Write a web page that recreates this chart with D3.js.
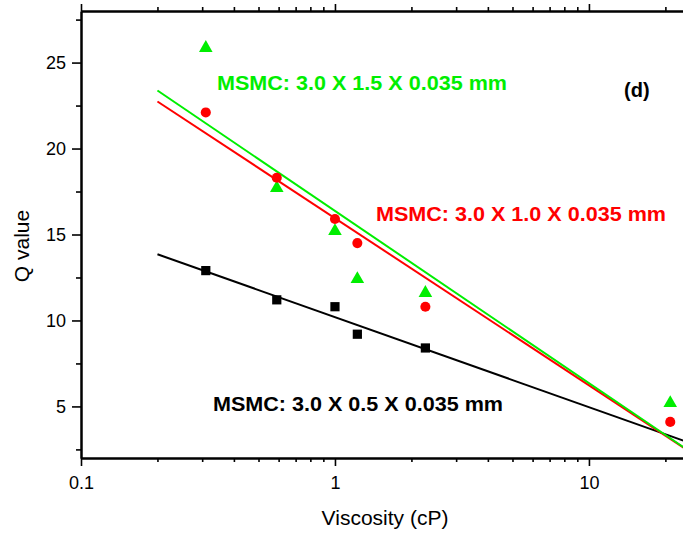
<!DOCTYPE html>
<html>
<head>
<meta charset="utf-8">
<script src="https://cdn.jsdelivr.net/npm/d3@7"></script>
<style>
  html, body { margin: 0; padding: 0; background: #fff; }
  svg { display: block; font-family: "Liberation Sans", Arial, sans-serif; }
</style>
</head>
<body>
<svg id="chart" width="683" height="534"></svg>
<script>
// Viscosity values (cP) for each measurement
const viscosity = [0.31, 0.59, 1.0, 1.225, 2.27, 20.9];

// Q values for the three channel geometries
const qWide   = [25.85, 17.7, 15.2, 12.4, 11.6, 5.2];   // 3.0 x 1.5 x 0.035 mm
const qMedium = [22.1, 18.3, 15.9, 14.5, 10.8, 4.1];    // 3.0 x 1.0 x 0.035 mm
const qNarrow = [12.9, 11.2, 10.8, 9.2, 8.4];           // 3.0 x 0.5 x 0.035 mm

const seriesLabels = [
  "MSMC: 3.0 X 1.5 X 0.035 mm",
  "MSMC: 3.0 X 1.0 X 0.035 mm",
  "MSMC: 3.0 X 0.5 X 0.035 mm"
];

const yTicks = [5, 10, 15, 20, 25];
const xTicks = [0.1, 1, 10];
const fitRange = [0.2, 25];

const svg = d3.select("#chart");
const mLeft = 81, mTop = 11, mRight = 690, mBottom = 458;

const x = d3.scaleLog().domain([0.1, 25]).range([mLeft, mRight]);
const y = d3.scaleLinear().domain([2, 28]).range([mBottom, mTop]);

// Least-squares fit of Q against log10(viscosity)
function fit(xs, ys) {
  const lx = xs.slice(0, ys.length).map(Math.log10);
  const mx = d3.mean(lx), my = d3.mean(ys);
  const sxy = d3.sum(lx, (v, i) => (v - mx) * (ys[i] - my));
  const sxx = d3.sum(lx, v => (v - mx) * (v - mx));
  const b = sxy / sxx, a = my - b * mx;
  return v => a + b * Math.log10(v);
}

const series = [
  { q: qWide,   color: "#00ee00", shape: d3.symbolTriangle, size: 80 },
  { q: qMedium, color: "#ff0000", shape: d3.symbolCircle,   size: 80 },
  { q: qNarrow, color: "#000000", shape: d3.symbolSquare,   size: 85 }
];

// Plot clip so fit lines stop at the frame
svg.append("clipPath").attr("id", "plotClip")
  .append("rect").attr("x", mLeft).attr("y", mTop)
  .attr("width", mRight - mLeft).attr("height", mBottom - mTop);

const plot = svg.append("g").attr("clip-path", "url(#plotClip)");

// Fit lines
series.slice().reverse().forEach(s => {
  const f = fit(viscosity, s.q);
  plot.append("path")
    .attr("d", d3.line().x(d => x(d)).y(d => y(f(d)))(fitRange))
    .attr("stroke", s.color).attr("stroke-width", 2).attr("fill", "none");
});

// Markers
series.forEach(s => {
  plot.selectAll(null).data(s.q).enter().append("path")
    .attr("transform", (d, i) => `translate(${x(viscosity[i])},${y(d)})`)
    .attr("d", d3.symbol().type(s.shape).size(s.size))
    .attr("fill", s.color);
});

// Axes
const minorX = [];
[0.1, 1, 10].forEach(dec => { for (let k = 2; k <= 9; k++) { if (dec * k <= 25) minorX.push(dec * k); } });
const minorY = [2.5, 7.5, 12.5, 17.5, 22.5, 27.5];

const axisStyle = g => {
  g.selectAll("path").attr("stroke-width", 2);
  g.selectAll("line").attr("stroke-width", 1.6);
  g.selectAll("text").attr("font-size", 18).attr("fill", "#000")
   .attr("font-family", "'Liberation Sans', Arial, sans-serif");
};

// Bottom axis
svg.append("g").attr("transform", `translate(0,${mBottom})`)
  .call(d3.axisBottom(x).tickValues(minorX).tickSize(4).tickFormat("").tickSizeOuter(0))
  .call(axisStyle);
svg.append("g").attr("transform", `translate(0,${mBottom})`)
  .call(d3.axisBottom(x).tickValues(xTicks).tickSize(8).tickPadding(10).tickFormat(d3.format("~g")).tickSizeOuter(0))
  .call(axisStyle);

// Top axis
svg.append("g").attr("transform", `translate(0,${mTop})`)
  .call(d3.axisTop(x).tickValues(minorX).tickSize(4).tickFormat("").tickSizeOuter(0))
  .call(axisStyle);
svg.append("g").attr("transform", `translate(0,${mTop})`)
  .call(d3.axisTop(x).tickValues(xTicks).tickSize(7).tickFormat("").tickSizeOuter(0))
  .call(axisStyle);

// Left axis
svg.append("g").attr("transform", `translate(${mLeft},0)`)
  .call(d3.axisLeft(y).tickValues(minorY).tickSize(5).tickFormat("").tickSizeOuter(0))
  .call(axisStyle);
svg.append("g").attr("transform", `translate(${mLeft},0)`)
  .call(d3.axisLeft(y).tickValues(yTicks).tickSize(9).tickPadding(6).tickSizeOuter(0))
  .call(axisStyle);

// Axis titles
svg.append("text").attr("x", 385).attr("y", 525).attr("text-anchor", "middle")
  .attr("font-size", 21).text("Viscosity (cP)");
svg.append("text").attr("transform", "translate(29,246) rotate(-90)")
  .attr("text-anchor", "middle").attr("font-size", 21).text("Q value");

// Series labels
const labelPos = [[217, 90], [376, 221], [213, 411]];
series.forEach((s, i) => {
  svg.append("text").attr("x", labelPos[i][0]).attr("y", labelPos[i][1])
    .attr("font-size", 20).attr("font-weight", "bold").attr("fill", s.color)
    .attr("textLength", 290).attr("lengthAdjust", "spacingAndGlyphs")
    .text(seriesLabels[i]);
});

// Panel tag
svg.append("text").attr("x", 624).attr("y", 97).attr("font-size", 20)
  .attr("font-weight", "bold").text("(d)");
</script>
</body>
</html>
